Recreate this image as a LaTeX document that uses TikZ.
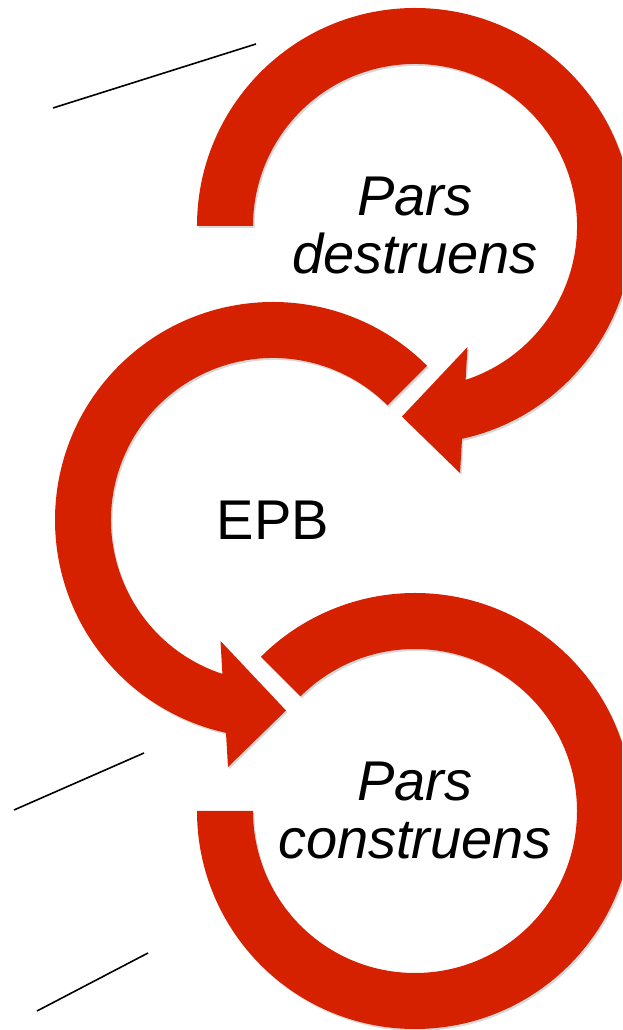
\documentclass[tikz,border=0pt]{standalone}
\usepackage{fontspec}
\setmainfont{Liberation Sans}
\usetikzlibrary{calc}
\definecolor{arrowred}{RGB}{214,33,0}
\begin{document}
\begin{tikzpicture}[x=1pt,y=1pt,
  ringarrow/.style={fill=arrowred, draw=none,
    preaction={fill=black, opacity=0.15, transform canvas={shift={(1.5pt,-2pt)}}}},
  txt/.style={font=\fontsize{56}{58}\selectfont, align=center, inner sep=0pt},
  sepline/.style={draw=black, line width=1.6pt}]
\useasboundingbox (0,0) rectangle (622,1030);
\clip (0,0) rectangle (622,1030);
\coordinate (c1) at (415,804);
\coordinate (c2) at (273,510);
\coordinate (c3) at (415,219);
% arrow 1 (clockwise, Pars destruens)
\path[ringarrow] ($(c1)+(180:218)$) arc[start angle=180,end angle=-77.54,radius=218]
  -- ($(c1)+(45,-247)$) -- ($(c1)+(-13,-190.5)$) -- ($(c1)+(52.5,-121)$)
  -- ($(c1)+(-71.8:162)$) arc[start angle=-71.8,end angle=180,radius=162] -- cycle;
% arrow 2 (counter-clockwise, EPB)
\path[ringarrow] ($(c2)+(45:218)$) arc[start angle=45,end angle=257.54,radius=218]
  -- ($(c2)+(-45,-247)$) -- ($(c2)+(13,-190.5)$) -- ($(c2)+(-52.5,-121)$)
  -- ($(c2)+(251.8:162)$) arc[start angle=251.8,end angle=45,radius=162] -- cycle;
% ring 3 (Pars construens)
\path[ringarrow] ($(c3)+(180:218)$) arc[start angle=180,end angle=495,radius=218]
  -- ($(c3)+(135:162)$) arc[start angle=495,end angle=180,radius=162] -- cycle;
% texts
\node[txt] (destruens) at (c1) {\itshape Pars\\\itshape destruens};
\node[txt] (epb) at (c2) {EPB};
\node[txt] (construens) at (c3) {\itshape Pars\\\itshape construens};
% thin lines
\coordinate (l1a) at (53,922);
\coordinate (l1b) at (256,986);
\coordinate (l2a) at (14,220);
\coordinate (l2b) at (144,277);
\coordinate (l3a) at (37,19);
\coordinate (l3b) at (148,77);
\draw[sepline] (l1a) -- (l1b);
\draw[sepline] (l2a) -- (l2b);
\draw[sepline] (l3a) -- (l3b);
\end{tikzpicture}
\end{document}
